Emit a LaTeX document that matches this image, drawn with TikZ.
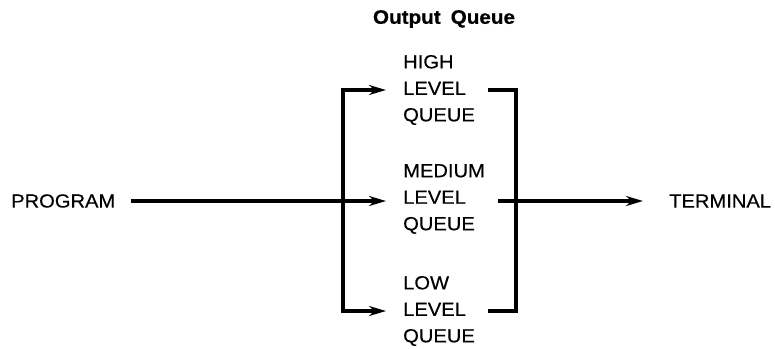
\documentclass[tikz,border=0pt]{standalone}
\usepackage{fontspec}
\setmainfont{Liberation Sans}[FakeStretch=1.06,FakeBold=0.4]
\usetikzlibrary{arrows.meta}
\begin{document}
\begin{tikzpicture}[x=1pt,y=-1pt,
  lbl/.style={inner sep=0pt, font=\fontsize{19}{26.5}\selectfont},
  queue/.style={lbl, align=left, anchor=west},
  wire/.style={line width=3.3pt},
  arr/.style={wire, -{Stealth[length=17pt,width=10pt]}}]
\useasboundingbox (0,0) rectangle (775,348);
\node[lbl, font=\fontsize{19.5}{23}\selectfont\bfseries] (title) at (444,19) {Output\hspace{10pt}Queue};
\node[lbl, anchor=west] (program) at (11,201) {PROGRAM};
\node[lbl, anchor=west] (terminal) at (669,201) {TERMINAL};
\node[queue] (high) at (403,90) {HIGH\\LEVEL\\QUEUE};
\node[queue] (medium) at (403,199) {MEDIUM\\LEVEL\\QUEUE};
\node[queue] (low) at (403,311) {LOW\\LEVEL\\QUEUE};
\coordinate (split) at (343,201);
\coordinate (join) at (516,201);
\draw[arr, shorten <=16pt, shorten >=17pt] (program.east) -- (program.east -| medium.west);
\draw[arr, shorten >=17pt] (split) |- (high.west);
\draw[arr, shorten >=17pt] (split) |- (low.west);
\draw[wire, shorten <=13pt] (high.east) -| (join);
\draw[wire, shorten <=13pt] (low.east) -| (join);
\draw[arr, shorten <=13pt, shorten >=26pt] (medium.east |- join) -- (terminal.west);
\end{tikzpicture}
\end{document}
